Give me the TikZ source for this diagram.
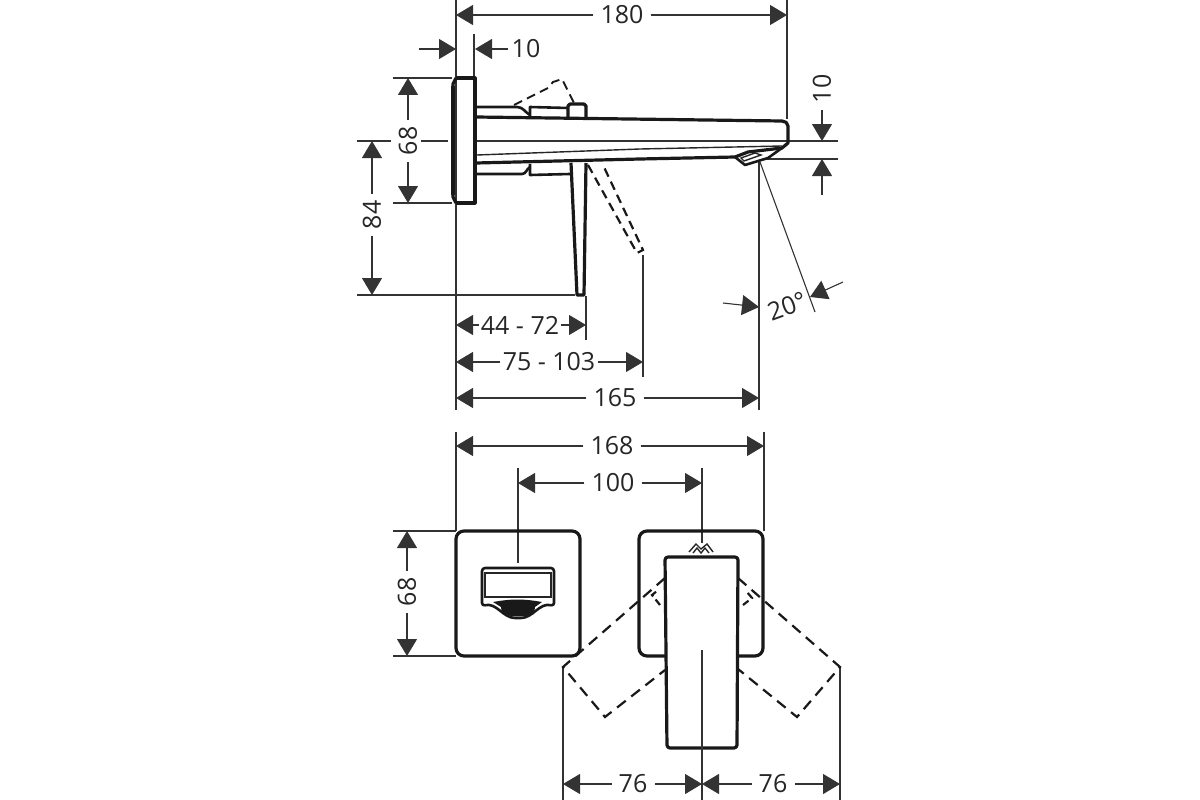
\documentclass[tikz,border=0pt]{standalone}
\usepackage{fontspec}
\setmainfont{Open Sans}
\usetikzlibrary{arrows.meta}

\begin{document}
\begin{tikzpicture}[x=1pt,y=-1pt,>={Triangle[length=17pt,width=20pt]},
    thinline/.style={line width=1.1pt,draw=black!80},
    dim/.style={thinline,->,fill=black},
    body/.style={line width=3.2pt,line join=round,draw=black!90},
    mid/.style={line width=1.4pt,draw=black!85},
    hidden/.style={line width=2.2pt,dash pattern=on 11pt off 7pt,draw=black!90},
    val/.style={font=\fontsize{25}{25}\selectfont,text=black!85,inner sep=7pt},
    valv/.style={val,rotate=90}]
  \useasboundingbox (0,0) rectangle (1200,800);

  % extension lines, side view
  \draw[thinline] (456,0) -- (456,410);
  \draw[thinline] (787,0) -- (787,119);
  \draw[thinline] (474,34) -- (474,77);
  \draw[thinline] (393,78) -- (452,78);
  \draw[thinline] (393,203) -- (452,203);
  \draw[thinline] (357,295) -- (575,295);
  \draw[thinline] (477,141) -- (838,141);
  \draw[thinline] (765,159) -- (838,159);
  \draw[thinline] (586,296) -- (586,340);
  \draw[thinline] (643,255) -- (643,377);
  \draw[thinline] (759,160) -- (759,410);
  \draw[thinline] (760,162) -- (815,312);

  % dimensions, side view
  \node[val] (t180) at (622,15) {180};
  \coordinate (a180) at (456,15);
  \coordinate (b180) at (787,15);
  \draw[dim] (t180) -- (a180);
  \draw[dim] (t180) -- (b180);

  \node[val,inner sep=4pt] (t10a) at (526,49) {10};
  \coordinate (a10a) at (419,49);
  \coordinate (b10a) at (456,49);
  \coordinate (c10a) at (475,49);
  \draw[dim] (a10a) -- (b10a);
  \draw[dim] (t10a) -- (c10a);

  \node[valv] (t68a) at (408,141) {68};
  \coordinate (a68a) at (408,78);
  \coordinate (b68a) at (408,203);
  \draw[dim] (t68a) -- (a68a);
  \draw[dim] (t68a) -- (b68a);
  \draw[thinline] (357,141) -- (391,141) (421,141) -- (448,141);

  \node[valv] (t84) at (372,215) {84};
  \coordinate (a84) at (372,141);
  \coordinate (b84) at (372,295);
  \draw[dim] (t84) -- (a84);
  \draw[dim] (t84) -- (b84);

  \node[valv] (t10b) at (822,89) {10};
  \coordinate (a10b) at (822,141);
  \coordinate (b10b) at (822,195);
  \coordinate (c10b) at (822,159);
  \draw[dim] (t10b) -- (a10b);
  \draw[dim] (b10b) -- (c10b);

  \node[val,inner sep=2pt] (t4472) at (520,325) {44 - 72};
  \coordinate (a4472) at (456,325);
  \coordinate (b4472) at (586,325);
  \draw[dim] (t4472) -- (a4472);
  \draw[dim] (t4472) -- (b4472);

  \node[val,inner sep=3pt] (t75103) at (549,362) {75 - 103};
  \coordinate (a75103) at (456,362);
  \coordinate (b75103) at (643,362);
  \draw[dim] (t75103) -- (a75103);
  \draw[dim] (t75103) -- (b75103);

  \node[val] (t165) at (615,398) {165};
  \coordinate (a165) at (456,398);
  \coordinate (b165) at (759,398);
  \draw[dim] (t165) -- (a165);
  \draw[dim] (t165) -- (b165);

  \node[val,rotate=20,inner sep=0pt] (t20) at (787,306) {20°};
  \coordinate (a20) at (723,303);
  \coordinate (b20) at (759,307);
  \coordinate (c20) at (843,282);
  \coordinate (d20) at (810,297);
  \draw[dim] (a20) -- (b20);
  \draw[dim] (c20) -- (d20);

  % wall plate
  \draw[body] (456,78) -- (475,78) -- (475,203) -- (456,203);
  \draw[body] (456,78) -- (453,84) -- (453,197) -- (456,203);
  \draw[body,line width=4pt] (452.5,86) -- (452.5,195);

  % spout
  \draw[body] (476,117) -- (782,121) to[out=0,in=90] (788,126) -- (788,143) -- (782,148) -- (748,152) -- (735,157) -- (640,159) -- (476,163);
  \draw[mid] (477,155) -- (640,149) -- (782,146);
  \draw[body,line width=2.6pt] (735,157) -- (745,165) -- (768,158) -- (782,148);
  \draw[mid] (741,158) -- (744,161) -- (761,155) -- (755,153) -- cycle;

  % upper body and knob
  \draw[body,line width=2.6pt] (476,107) -- (517,107) to[out=0,in=150] (530,115);
  \draw[body,line width=2.6pt] (530,117) -- (530,107) -- (568,108);
  \draw[body] (568,117) -- (568,106) -- (570,104) -- (584,104) -- (586,106) -- (586,117);
  \draw[hidden,line width=1.9pt,dash pattern=on 9pt off 5.5pt] (514,105) -- (548,88) -- (553,82) -- (562,79) -- (575,105);

  % lower body and lever
  \draw[body,line width=2.6pt] (476,174) -- (522,174) to[out=0,in=210] (530,167);
  \draw[body,line width=2.6pt] (530,164) -- (530,175) -- (570,174);
  \draw[body] (571,163) -- (577,295) -- (584,295) -- (586,163);
  \draw[hidden,dash pattern=on 9pt off 5.5pt] (588,165) -- (637,253) -- (643,250) -- (603,165);

  % extension lines, top view
  \draw[thinline] (456,432) -- (456,531);
  \draw[thinline] (764,432) -- (764,531);
  \draw[thinline] (518,468) -- (518,563);
  \draw[thinline] (702,468) -- (702,543);
  \draw[thinline] (393,531) -- (456,531);
  \draw[thinline] (393,656) -- (456,656);
  \draw[thinline] (563,667) -- (563,800);
  \draw[thinline] (840,667) -- (840,800);

  % dimensions, top view
  \node[val] (t168) at (612,446) {168};
  \coordinate (a168) at (456,446);
  \coordinate (b168) at (764,446);
  \draw[dim] (t168) -- (a168);
  \draw[dim] (t168) -- (b168);

  \node[val] (t100) at (613,483) {100};
  \coordinate (a100) at (518,483);
  \coordinate (b100) at (702,483);
  \draw[dim] (t100) -- (a100);
  \draw[dim] (t100) -- (b100);

  \node[valv] (t68b) at (407,592) {68};
  \coordinate (a68b) at (407,531);
  \coordinate (b68b) at (407,656);
  \draw[dim] (t68b) -- (a68b);
  \draw[dim] (t68b) -- (b68b);

  \node[val] (t76a) at (633,784) {76};
  \coordinate (a76a) at (563,784);
  \coordinate (b76a) at (702,784);
  \draw[dim] (t76a) -- (a76a);
  \draw[dim] (t76a) -- (b76a);

  \node[val] (t76b) at (773,784) {76};
  \coordinate (a76b) at (702,784);
  \coordinate (b76b) at (840,784);
  \draw[dim] (t76b) -- (a76b);
  \draw[dim] (t76b) -- (b76b);

  % left plate with drain lever
  \draw[body,rounded corners=8pt] (456,531) rectangle (580,656);
  \draw[body,line width=2.6pt,rounded corners=3pt] (482,568) -- (554,568) -- (554,606) to[out=165,in=0] (518,618) to[out=180,in=15] (482,606) -- cycle;
  \draw[mid] (485,573) rectangle (551,597);
  \fill[black!90] (493,602) to[out=10,in=170] (542,602) -- (535,607) -- (534,614) to[out=195,in=-15] (502,614) -- (501,607) -- cycle;

  % right plate
  \draw[body,rounded corners=8pt] (639,531) rectangle (763,656);

  % hidden lever positions
  \draw[hidden] (665,578) -- (563,667) -- (605,717) -- (665,670);
  \draw[hidden] (738,578) -- (840,667) -- (797,717) -- (738,669);
  \draw[hidden,dash pattern=on 7pt off 4pt] (660,605) -- (652,595) -- (657,591);
  \draw[hidden,dash pattern=on 7pt off 4pt] (743,605) -- (752,598) -- (747,592);

  % chevrons
  \draw[mid] (689,552) -- (696,544) -- (701,549) -- (707,544) -- (713,552);
  \draw[mid] (693,553) -- (697,548) -- (701,553) -- (705,548) -- (709,553);

  % spout from above
  \draw[body,fill=white,rounded corners=3pt] (665,557) -- (738,557) -- (737,748) -- (667,748) -- cycle;
  \draw[thinline] (702,650) -- (702,800);
\end{tikzpicture}
\end{document}
